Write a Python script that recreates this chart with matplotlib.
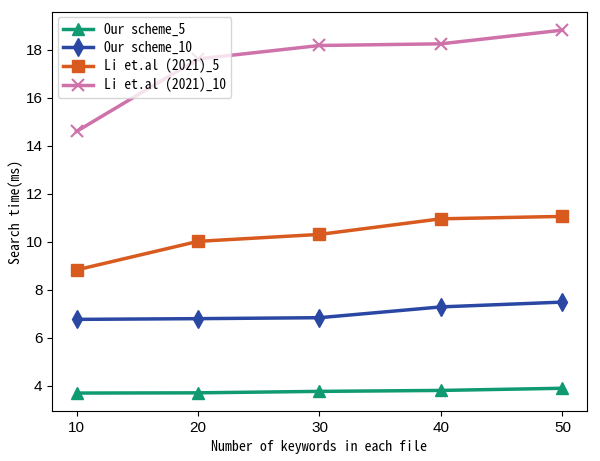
import matplotlib
matplotlib.use("Agg")
import matplotlib.pyplot as plt

# keywords per file
x = [10, 20, 30, 40, 50]

# search time (ms)
ours_5 = [3.70, 3.71, 3.77, 3.81, 3.90]
ours_10 = [6.77, 6.80, 6.84, 7.29, 7.49]
li_5 = [8.83, 10.02, 10.31, 10.96, 11.06]
li_10 = [14.60, 17.62, 18.18, 18.25, 18.82]

labels = ["Our scheme_5", "Our scheme_10", "Li et.al (2021)_5", "Li et.al (2021)_10"]
text_font = ["Noto Sans Mono CJK SC", "DejaVu Sans Mono"]
tick_font = "Liberation Sans"

fig = plt.figure(figsize=(6.0, 4.61), dpi=100)
ax = fig.add_axes([0.087, 0.108, 0.891, 0.866])

ax.plot(x, ours_5, color="#109a72", marker="^", markersize=9, linewidth=2.5, label=labels[0])
ax.plot(x, ours_10, color="#2a48a3", marker="d", markersize=9, linewidth=2.5, label=labels[1])
ax.plot(x, li_5, color="#d85a1e", marker="s", markersize=8, linewidth=2.5, label=labels[2])
ax.plot(x, li_10, color="#cf72aa", marker="x", markersize=9, markeredgewidth=1.5, linewidth=2.5, label=labels[3])

ax.set_xticks(x)
ax.set_yticks([4, 6, 8, 10, 12, 14, 16, 18])
for t in ax.get_xticklabels() + ax.get_yticklabels():
    t.set_fontfamily(tick_font)
    t.set_fontsize(11)

ax.set_xlabel("Number of keywords in each file", family=text_font, fontsize=10)
ax.set_ylabel("Search time(ms)", family=text_font, fontsize=10, labelpad=2)

ax.legend(loc="upper left", prop={"family": text_font, "size": 9.8}, borderaxespad=0.4,
          labelspacing=0.3, handlelength=2.2)

fig.savefig("out.png", dpi=100)
